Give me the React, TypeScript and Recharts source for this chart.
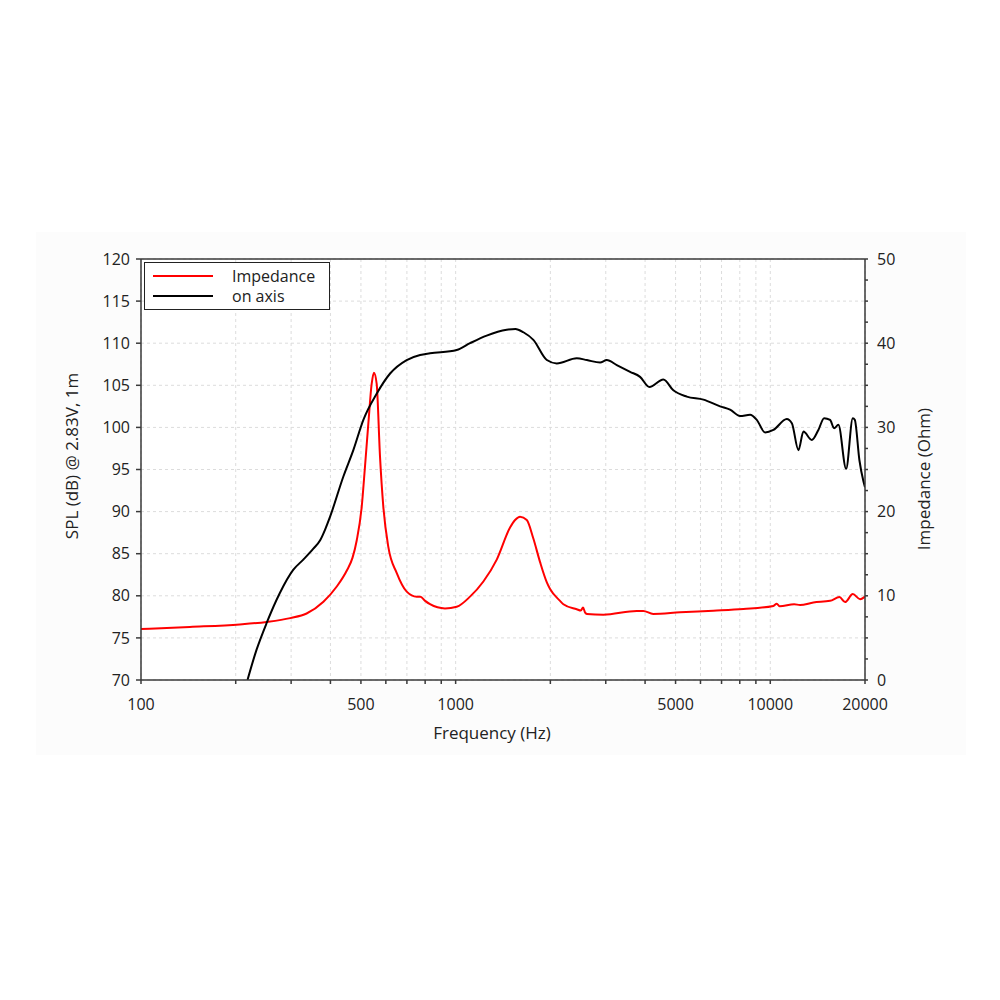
import React from 'react';
import { LineChart, Line, XAxis, YAxis, CartesianGrid, Legend, ReferenceLine } from 'recharts';

const splFreq = [218, 233, 251, 276, 305, 328, 353, 371, 385, 399, 440, 473, 509, 561, 619, 699, 771, 829, 1008, 1111, 1255, 1453, 1550, 1642, 1766, 1949, 2096, 2426, 2612, 2877, 3021, 3252, 3585, 3856, 4128, 4572, 4920, 5428, 6130, 6925, 7450, 8017, 8627, 9058, 9627, 10232, 11282, 11710, 12289, 12745, 13545, 14220, 14830, 15490, 15950, 16460, 17420, 18290, 18560, 19200, 19770, 20000];
const splDb = [70, 73.6, 76.8, 80.3, 83.1, 84.3, 85.6, 86.6, 87.9, 89.4, 94.2, 97.3, 100.9, 104.0, 106.4, 108.0, 108.6, 108.8, 109.2, 110.0, 110.9, 111.6, 111.7, 111.3, 110.4, 108.0, 107.6, 108.2, 108.0, 107.7, 108.0, 107.4, 106.6, 106.0, 104.8, 105.7, 104.4, 103.65, 103.3, 102.5, 102.1, 101.35, 101.5, 100.9, 99.4, 99.7, 101.0, 100.5, 97.3, 99.5, 98.5, 99.7, 101.1, 100.9, 99.9, 100.3, 95.1, 101.1, 100.9, 96.1, 93.6, 92.9];

const impFreq = [100, 143, 206, 251, 298, 336, 380, 419, 451, 470, 485, 503, 515, 528, 541, 550, 561, 575, 589, 611, 650, 699, 752, 773, 800, 829, 925, 1008, 1111, 1225, 1351, 1489, 1545, 1602, 1683, 1766, 1855, 1949, 1996, 2147, 2200, 2426, 2500, 2540, 2580, 2612, 2948, 3764, 3948, 4245, 5167, 6594, 8212, 10232, 10486, 10723, 11909, 12436, 13708, 15490, 16590, 17290, 18290, 19300, 20000];
const impOhm = [6.05, 6.3, 6.6, 6.9, 7.35, 7.9, 9.3, 11.1, 13.0, 14.5, 16.6, 20.6, 25.3, 30.5, 35.2, 36.5, 35.2, 26.5, 20.6, 15.8, 12.7, 10.5, 9.9, 9.9, 9.4, 9.0, 8.5, 8.7, 9.9, 11.7, 14.3, 18.1, 19.0, 19.4, 19.0, 16.8, 14.0, 11.6, 10.8, 9.4, 9.0, 8.4, 8.25, 8.6, 8.0, 7.85, 7.76, 8.2, 8.2, 7.85, 8.04, 8.23, 8.43, 8.8, 9.05, 8.75, 9.0, 8.9, 9.2, 9.4, 9.85, 9.25, 10.2, 9.6, 9.9];

const xTicks = [100, 200, 300, 400, 500, 600, 700, 800, 900, 1000, 2000, 3000, 4000, 5000, 6000, 7000, 8000, 9000, 10000, 20000];
const xLabels = [100, 500, 1000, 5000, 10000, 20000];
const splTicks = [70, 75, 80, 85, 90, 95, 100, 105, 110, 115, 120];
const ohmTicks = [0, 2.5, 5, 7.5, 10, 12.5, 15, 17.5, 20, 22.5, 25, 27.5, 30, 32.5, 35, 37.5, 40, 42.5, 45, 47.5, 50];
const ohmLabels = [0, 10, 20, 30, 40, 50];

const splData = splFreq.map((f, i) => ({ f, v: splDb[i] }));
const impData = impFreq.map((f, i) => ({ f, v: impOhm[i] }));

const FONT = '"Open Sans", "DejaVu Sans", sans-serif';
const AXIS = '#3a3a3a';

const renderLegend = (props: any) => {
  const { payload } = props;
  return (
    <div style={{ border: '1.5px solid #222', background: '#fff', padding: '3px 14px 3px 8px', fontFamily: FONT, fontSize: 16, color: '#222', lineHeight: '20px' }}>
      {(payload || []).map((p: any) => (
        <div key={p.value} style={{ display: 'flex', alignItems: 'center' }}>
          <div style={{ width: 60, height: 2, background: p.color, marginRight: 19 }} />
          <span>{p.value}</span>
        </div>
      ))}
    </div>
  );
};

export default function App() {
  return (
    <div style={{ position: 'absolute', left: 0, top: 0, width: 1000, height: 1000, background: '#fff' }}>
      <div style={{ position: 'absolute', left: 36, top: 232, width: 930, height: 523, background: '#fcfcfc' }} />
      <div style={{ position: 'absolute', left: 0, top: 0 }}>
        <LineChart width={1000} height={1000} margin={{ top: 259, left: 81, right: 75, bottom: 260 }} style={{ fontFamily: FONT }}>
          <CartesianGrid xAxisId="x" yAxisId="spl" stroke="#dcdcdc" strokeDasharray="3 3" fill="#fff" />
          <XAxis
            xAxisId="x"
            dataKey="f"
            type="number"
            scale="log"
            domain={[100, 20000]}
            allowDataOverflow
            ticks={xTicks}
            interval={0}
            tickFormatter={(v: number) => (xLabels.includes(v) ? String(v) : '')}
            tick={{ fill: '#222', fontSize: 16 }}
            tickSize={4}
            tickMargin={15}
            stroke={AXIS}
            strokeWidth={1.5}
            height={60}
            label={(p: any) => (
              <text x={492} y={739} textAnchor="middle" fill="#222" fontSize={17} fontFamily={FONT}>Frequency (Hz)</text>
            )}
          />
          <YAxis
            yAxisId="spl"
            orientation="left"
            domain={[70, 120]}
            ticks={splTicks}
            interval={0}
            allowDataOverflow
            tick={{ fill: '#222', fontSize: 16 }}
            tickSize={5}
            tickMargin={6}
            stroke={AXIS}
            strokeWidth={1.5}
            width={60}
            label={(p: any) => (
              <text x={78} y={456} transform="rotate(-90, 78, 456)" textAnchor="middle" fill="#222" fontSize={17} fontFamily={FONT}>SPL (dB) @ 2.83V, 1m</text>
            )}
          />
          <YAxis
            yAxisId="z"
            orientation="right"
            domain={[0, 50]}
            ticks={ohmTicks}
            interval={0}
            allowDataOverflow
            tickFormatter={(v: number) => (ohmLabels.includes(v) ? String(v) : '')}
            tick={{ fill: '#222', fontSize: 16 }}
            tickSize={3}
            tickMargin={9}
            stroke={AXIS}
            strokeWidth={1.5}
            width={60}
            label={(p: any) => (
              <text x={930} y={479} transform="rotate(-90, 930, 479)" textAnchor="middle" fill="#222" fontSize={17} fontFamily={FONT}>Impedance (Ohm)</text>
            )}
          />
          <ReferenceLine xAxisId="x" yAxisId="spl" y={120} stroke={AXIS} strokeWidth={1.5} />
          <Line xAxisId="x" yAxisId="z" data={impData} dataKey="v" name="Impedance" type="monotone" stroke="#ff0000" strokeWidth={2} dot={false} isAnimationActive={false} />
          <Line xAxisId="x" yAxisId="spl" data={splData} dataKey="v" name="on axis" type="monotone" stroke="#000000" strokeWidth={2} dot={false} isAnimationActive={false} />
          <Legend
            layout="horizontal"
            verticalAlign="middle"
            align="center"
            content={renderLegend}
            wrapperStyle={{ position: 'absolute', left: 144, top: 262, width: 'auto', height: 'auto' }}
          />
        </LineChart>
      </div>
    </div>
  );
}
